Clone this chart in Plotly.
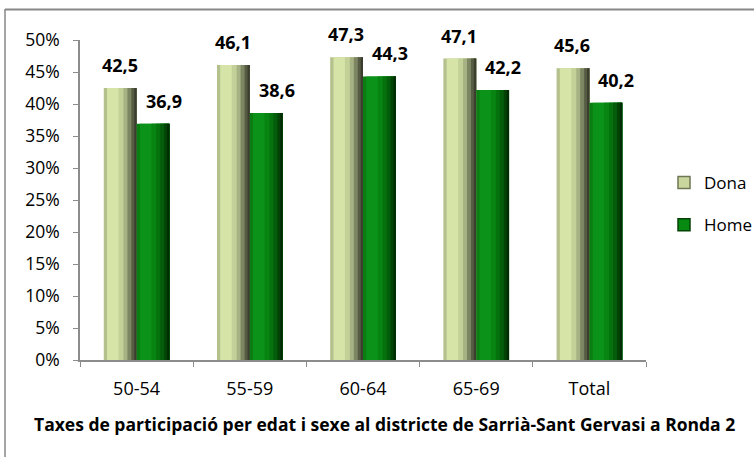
import plotly.graph_objects as go

categories = ["50-54", "55-59", "60-64", "65-69", "Total"]
dona = [42.5, 46.1, 47.3, 47.1, 45.6]
home = [36.9, 38.6, 44.3, 42.2, 40.2]
y_ticks = [0, 5, 10, 15, 20, 25, 30, 35, 40, 45, 50]
title_text = "Taxes de participació per edat i sexe al districte de Sarrià-Sant Gervasi a Ronda 2"

W, H = 754, 457
ml, mt = 80, 40
plot_right, plot_bottom = 646, 360
mr, mb = W - plot_right, H - plot_bottom
pw, ph = W - ml - mr, H - mt - mb

def px_x(x):
    return (x - ml) / pw

def px_y(y):
    return (H - mb - y) / ph

FONT = "Open Sans"
BAR_W = 0.29

# cylinder-like shading: (start fraction, colour); each layer runs to the bar's right edge
DONA_SHADE = [(0.0, "#b4c18c"), (0.10, "#d6e4a8"), (0.45, "#c3d199"),
              (0.60, "#a6b283"), (0.72, "#7d8663"), (0.84, "#565c43"),
              (0.93, "#3b3e2e")]
HOME_SHADE = [(0.0, "#0b7d12"), (0.10, "#0a9318"), (0.45, "#078412"),
              (0.60, "#06720e"), (0.72, "#045d0a"), (0.84, "#034306"),
              (0.93, "#022c03")]

fig = go.Figure()

def add_series(name, values, base_offset, shades, legend_color, legend_line, group):
    yv = [v / 100 for v in values]
    for f0, col in shades:
        fig.add_trace(go.Bar(
            x=categories, y=yv, name=name,
            offset=base_offset + f0 * BAR_W, width=(1.0 - f0) * BAR_W,
            marker=dict(color=col, line=dict(width=0)),
            showlegend=False, legendgroup=group, hoverinfo="skip",
        ))
    fig.add_trace(go.Bar(
        x=[categories[0]], y=[None], name=name,
        marker=dict(color=legend_color, line=dict(color=legend_line, width=1.5)),
        showlegend=True, legendgroup=group,
    ))

add_series("Dona", dona, -BAR_W, DONA_SHADE, "#c9d79e", "#6f7856", "a")
add_series("Home", home, 0.0, HOME_SHADE, "#078a12", "#034306", "b")

for c, v in zip(categories, dona):
    fig.add_annotation(x=c, y=v / 100, text=f"<b>{v:.1f}</b>".replace(".", ","),
                       showarrow=False, xshift=-17, yshift=23,
                       font=dict(family=FONT, size=18, color="black"))
for c, v in zip(categories, home):
    fig.add_annotation(x=c, y=v / 100, text=f"<b>{v:.1f}</b>".replace(".", ","),
                       showarrow=False, xshift=27, yshift=23,
                       font=dict(family=FONT, size=18, color="black"))

fig.add_annotation(xref="paper", yref="paper", x=px_x(384), y=px_y(438),
                   text=f"<b>{title_text}</b>", showarrow=False,
                   font=dict(family=FONT, size=17.5, color="black"))

# outer chart frame (top and left edges visible)
fig.add_shape(type="line", xref="paper", yref="paper",
              x0=px_x(5), x1=px_x(754), y0=px_y(9.5), y1=px_y(9.5),
              line=dict(color="#888888", width=2))
fig.add_shape(type="line", xref="paper", yref="paper",
              x0=px_x(5), x1=px_x(5), y0=px_y(9), y1=px_y(457),
              line=dict(color="#888888", width=1.5))

fig.update_layout(
    width=W, height=H,
    margin=dict(l=ml, r=mr, t=mt, b=mb, autoexpand=False),
    paper_bgcolor="white", plot_bgcolor="white",
    barmode="overlay",
    showlegend=True,
    legend=dict(x=px_x(664), y=px_y(165), xanchor="left", yanchor="top",
                font=dict(family=FONT, size=17, color="black"),
                tracegroupgap=17, bgcolor="rgba(0,0,0,0)", itemwidth=30),
    font=dict(family=FONT, size=17, color="black"),
)
fig.update_yaxes(range=[0, 0.5], tickvals=[t / 100 for t in y_ticks], tickformat=".0%",
                 showgrid=False, showline=True, linecolor="#8c8c8c", linewidth=1.5,
                 ticks="outside", ticklen=5, tickcolor="#8c8c8c", ticklabelstandoff=10,
                 tickfont=dict(family=FONT, size=17.5), zeroline=False, automargin=False)
fig.update_xaxes(showgrid=False, showline=True, linecolor="#8c8c8c", linewidth=1.5,
                 ticks="outside", ticklen=5, tickcolor="#8c8c8c", tickson="boundaries",
                 ticklabelstandoff=12,
                 tickfont=dict(family=FONT, size=18), range=[-0.5, 4.5], automargin=False)

fig.write_html("out.html", config={"displayModeBar": False},
               post_script="document.body.style.margin='0';document.body.style.overflow='hidden';")
